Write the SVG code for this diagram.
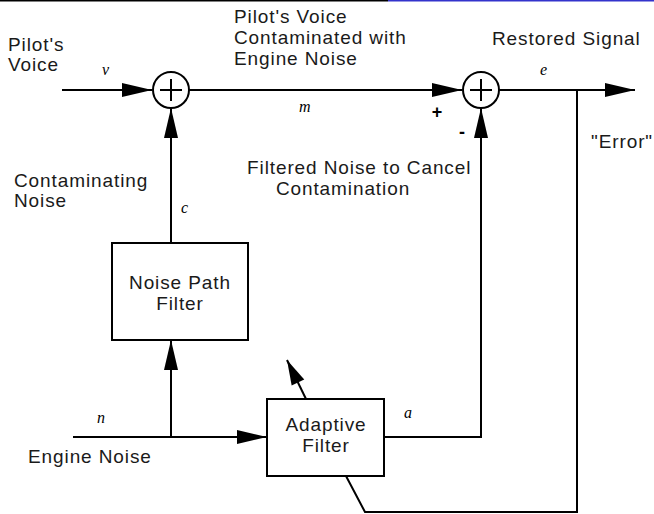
<svg xmlns="http://www.w3.org/2000/svg" width="654" height="514" viewBox="0 0 654 514">
<style>
.ln{fill:none;stroke:#000;stroke-width:2}
.bx{fill:#fff;stroke:#000;stroke-width:2}
.t{font-family:"Liberation Sans",Arial,sans-serif;font-size:19px;letter-spacing:0.9px;fill:#1a1a1a}
.v{font-family:"Liberation Serif","Times New Roman",serif;font-style:italic;font-size:16px;fill:#000}
.s{font-family:"Liberation Sans",Arial,sans-serif;font-size:18px;font-weight:bold;fill:#000}
</style>
<defs>
<marker id="ah" markerUnits="userSpaceOnUse" markerWidth="31" markerHeight="15" refX="30" refY="7" orient="auto" overflow="visible">
<path d="M0,0 L30,7 L0,14 z" fill="#000"/>
</marker>
<marker id="ah2" markerUnits="userSpaceOnUse" markerWidth="26" markerHeight="15" refX="25" refY="7" orient="auto" overflow="visible">
<path d="M0,0 L25,7 L0,14 z" fill="#000"/>
</marker>
</defs>
<rect width="654" height="514" fill="#fff"/>
<line x1="0" y1="0.5" x2="388" y2="0.5" stroke="#000" stroke-width="2"/>
<line x1="388" y1="0.5" x2="654" y2="0.5" stroke="#3333cc" stroke-width="2"/>

<g id="connectors">
<path class="ln" d="M62,90 H152" marker-end="url(#ah)"/>
<path class="ln" d="M189,90 H462" marker-end="url(#ah)"/>
<path class="ln" d="M499,90 H635" marker-end="url(#ah)"/>
<path class="ln" d="M577,90 V512 H365 L346,476"/>
<path class="ln" d="M171,243 V108" marker-end="url(#ah)"/>
<path class="ln" d="M73,437 H267" marker-end="url(#ah)"/>
<path class="ln" d="M171,437 V340" marker-end="url(#ah)"/>
<path class="ln" d="M384,437 H481 V108" marker-end="url(#ah)"/>
<path class="ln" d="M306,399 L287,360" marker-end="url(#ah2)"/>
</g>

<g id="sum1">
<circle cx="171" cy="90" r="18" class="bx"/>
<path class="ln" d="M160,90 H182 M171,79 V101"/>
</g>
<g id="sum2">
<circle cx="481" cy="90" r="18" class="bx"/>
<path class="ln" d="M470,90 H492 M481,79 V101"/>
</g>
<g id="noise-path-filter">
<rect x="112" y="243" width="136" height="97" class="bx"/>
<text class="t" x="180" y="289" text-anchor="middle">Noise Path</text>
<text class="t" x="180" y="310" text-anchor="middle">Filter</text>
</g>
<g id="adaptive-filter">
<rect x="267" y="399" width="117" height="77" class="bx"/>
<text class="t" x="326" y="431" text-anchor="middle">Adaptive</text>
<text class="t" x="326" y="452" text-anchor="middle">Filter</text>
</g>

<g id="labels">
<text class="t" x="8" y="51">Pilot's</text>
<text class="t" x="8" y="71">Voice</text>
<text class="t" x="234" y="23">Pilot's Voice</text>
<text class="t" x="234" y="44">Contaminated with</text>
<text class="t" x="234" y="65">Engine Noise</text>
<text class="t" x="492" y="45">Restored Signal</text>
<text class="t" x="591" y="148">"Error"</text>
<text class="t" x="14" y="187">Contaminating</text>
<text class="t" x="14" y="207">Noise</text>
<text class="t" x="247" y="174">Filtered Noise to Cancel</text>
<text class="t" x="343" y="195" text-anchor="middle">Contamination</text>
<text class="t" x="28" y="463">Engine Noise</text>
<text class="v" x="102" y="75">v</text>
<text class="v" x="299" y="112">m</text>
<text class="v" x="540" y="75">e</text>
<text class="v" x="181" y="213">c</text>
<text class="v" x="97" y="423">n</text>
<text class="v" x="404" y="418">a</text>
<text class="s" x="437" y="118" text-anchor="middle">+</text>
<text class="s" x="462" y="138" text-anchor="middle">-</text>
</g>
</svg>
